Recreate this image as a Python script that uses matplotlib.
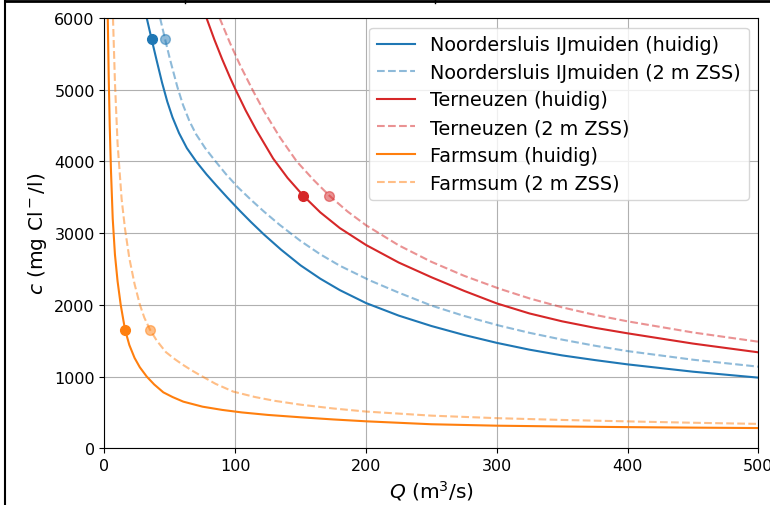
import numpy as np
import matplotlib
matplotlib.use("Agg")
import matplotlib.pyplot as plt
from matplotlib.lines import Line2D

# curves: Q (m3/s) -> c (mg Cl-/l)
ns_q = [32.3, 36, 40, 44, 48, 52, 57, 63, 70.5, 78, 86, 94, 103.6, 112, 122, 135, 150, 165, 180,
        200, 225, 250, 275, 300, 325, 350, 375, 400, 450, 500]
ns_c = [6000, 5707, 5400, 5100, 4835, 4615, 4395, 4185, 3990, 3820, 3655, 3495, 3310, 3155, 2980,
        2770, 2550, 2365, 2205, 2025, 1850, 1705, 1580, 1470, 1375, 1295, 1230, 1170, 1068, 985]

ns2_q = [42.5, 46.3, 50, 55.7, 60, 65, 70, 77, 84.5, 93, 102, 112, 122, 134, 150, 165, 180, 203,
         225, 250, 275, 302, 325, 350, 375, 400, 450, 500]
ns2_c = [6000, 5707, 5430, 5040, 4790, 4560, 4380, 4185, 4010, 3820, 3640, 3465, 3300, 3115, 2890,
         2705, 2545, 2340, 2170, 1990, 1845, 1710, 1610, 1515, 1430, 1355, 1235, 1138]

tn_q = [78, 84, 90, 96, 100, 108, 116, 129, 140, 152, 165, 180, 200, 225, 250, 275, 300, 325, 350,
        375, 400, 450, 500]
tn_c = [6000, 5700, 5425, 5170, 5010, 4710, 4440, 4040, 3770, 3522, 3290, 3070, 2835, 2590, 2385,
        2195, 2020, 1880, 1770, 1680, 1603, 1460, 1338]

tn2_q = [88, 96, 104, 114, 122, 134, 147, 160, 172, 186, 200, 225, 250, 275, 302, 325, 350, 375,
         400, 450, 500]
tn2_c = [6000, 5650, 5330, 4970, 4700, 4340, 4000, 3740, 3522, 3300, 3110, 2830, 2600, 2405, 2225,
         2090, 1965, 1860, 1770, 1615, 1486]

fs_q = [2.5, 3.2, 4, 5, 6.3, 8, 10, 12.4, 15.7, 19, 23, 27, 32.3, 38, 45, 52, 60.3, 75, 90, 105,
        125, 150, 175, 200, 250, 300, 350, 400, 450, 500]
fs_c = [6000, 5200, 4500, 3850, 3200, 2700, 2330, 2000, 1654, 1440, 1260, 1130, 1000, 890, 780,
        715, 650, 580, 535, 500, 465, 432, 402, 376, 335, 315, 304, 295, 288, 282]

fs2_q = [6.5, 8, 10, 13.1, 15.7, 19, 23, 27.1, 30.5, 34.8, 40, 47, 54, 60.3, 67, 73, 85, 98.5,
         115, 130, 150, 175, 200, 250, 300, 350, 400, 450, 500]
fs2_c = [6000, 5100, 4250, 3476, 3058, 2650, 2290, 2000, 1820, 1654, 1500, 1340, 1240, 1160, 1083,
         1020, 898, 790, 715, 662, 608, 555, 512, 455, 420, 395, 375, 356, 340]

# current operating points
pts_q = [36, 46.3, 152, 172, 15.7, 34.8]
pts_c = [5700, 5700, 3520, 3520, 1654, 1654]

labels = ["Noordersluis IJmuiden (huidig)", "Noordersluis IJmuiden (2 m ZSS)",
          "Terneuzen (huidig)", "Terneuzen (2 m ZSS)",
          "Farmsum (huidig)", "Farmsum (2 m ZSS)"]
series = [(ns_q, ns_c), (ns2_q, ns2_c), (tn_q, tn_c), (tn2_q, tn2_c), (fs_q, fs_c), (fs2_q, fs2_c)]
colors = ["tab:blue", "tab:blue", "tab:red", "tab:red", "tab:orange", "tab:orange"]

plt.rcParams["font.size"] = 11.5

fig = plt.figure(figsize=(7.7, 5.06), dpi=100)
ax = fig.add_axes([0.1357, 0.1121, 0.8491, 0.8504])

for i, (q, c) in enumerate(series):
    dashed = i % 2 == 1
    a = 0.5 if dashed else 1.0
    ax.plot(q, c, color=colors[i], ls="--" if dashed else "-", alpha=a, lw=1.5, label=labels[i])
    ax.plot(pts_q[i], pts_c[i], "o", color=colors[i], alpha=a, ms=7)

ax.set_xlim(0, 500)
ax.set_ylim(0, 6000)
ax.grid(True)
ax.set_xlabel("$Q$ (m$^3$/s)", fontsize=14.5)
ax.set_ylabel("$c$ (mg Cl$^-$/l)", fontsize=14.5)
ax.legend(loc="upper right", fontsize=13.8, labelspacing=0.45)

# frame of the screenshot the chart sits in
fig.add_artist(Line2D([5/770, 5/770], [0, 1], color="black", lw=1.5))
fig.add_artist(Line2D([5/770, 1], [1 - 2/506, 1 - 2/506], color="black", lw=2))
fig.add_artist(Line2D([185/770, 185/770], [1 - 4/506, 1], color="black", lw=1))
fig.add_artist(Line2D([435/770, 435/770], [1 - 4/506, 1], color="black", lw=1))

fig.savefig("out.png", dpi=100)
